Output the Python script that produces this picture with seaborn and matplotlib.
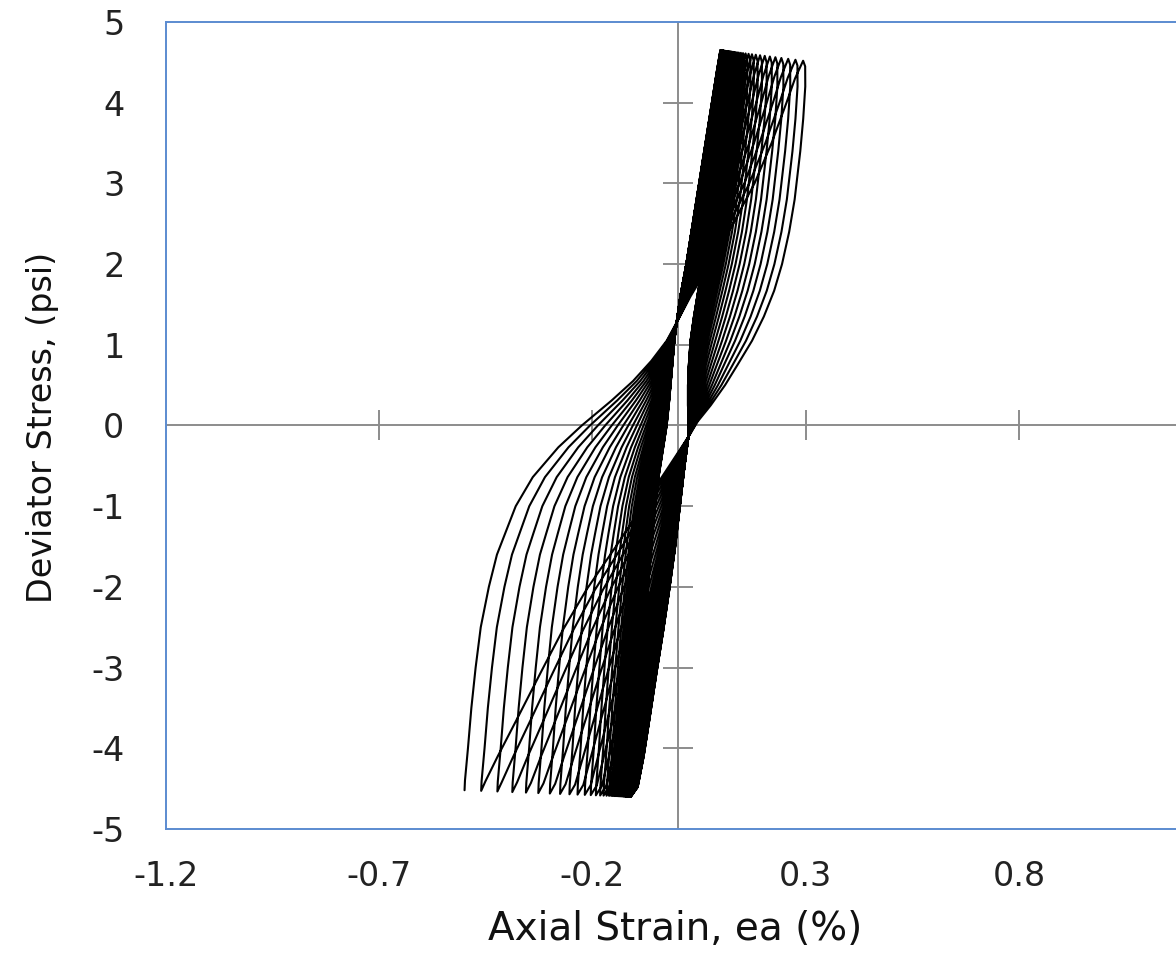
import numpy as np
import pandas as pd
import matplotlib.pyplot as plt
import seaborn as sns

# Cyclic triaxial test: deviator stress vs axial strain, one loop per load cycle.
# Branch shapes for the first (widest) and last (tightest) cycle.

# loading branch, first cycle
LOAD_STRESS_OUTER = [-4.52, -4.4, -4.0, -3.5, -3.0, -2.5, -2.0, -1.6, -1.34, -1.0, -0.64, -0.27, 0.0,
                     0.31, 0.55, 0.8, 1.05, 1.3, 1.6, 2.0, 2.5, 3.0, 3.5, 4.0, 4.3, 4.52]
LOAD_STRAIN_OUTER = [-0.500, -0.499, -0.492, -0.484, -0.474, -0.462, -0.443, -0.424, -0.405, -0.380,
                     -0.340, -0.280, -0.225, -0.155, -0.105, -0.062, -0.026, 0.000, 0.030, 0.075,
                     0.130, 0.180, 0.220, 0.255, 0.275, 0.294]
# unloading branch, first cycle
UNLOAD_STRESS_OUTER = [4.52, 4.45, 4.2, 3.8, 3.4, 2.8, 2.4, 2.0, 1.67, 1.35, 1.05, 0.75, 0.5, 0.25,
                       0.05, -0.1, -0.5, -1.0, -1.5, -2.04, -2.54, -3.07, -3.66, -4.1, -4.4, -4.52]
UNLOAD_STRAIN_OUTER = [0.294, 0.299, 0.300, 0.296, 0.290, 0.278, 0.266, 0.250, 0.232, 0.208, 0.180,
                       0.145, 0.115, 0.080, 0.048, 0.030, -0.022, -0.088, -0.155, -0.230, -0.290,
                       -0.347, -0.410, -0.458, -0.490, -0.500]

# loading branch, last cycle
LOAD_STRESS_INNER = [-4.6, -4.48, -4.0, -3.5, -3.0, -2.5, -2.0, -1.6, -1.34, -1.0, -0.64, -0.27, 0.0,
                     0.31, 0.55, 0.8, 1.05, 1.3, 1.6, 2.0, 2.5, 3.0, 3.5, 4.0, 4.4, 4.65]
LOAD_STRAIN_INNER = [-0.110, -0.109, -0.101, -0.094, -0.086, -0.078, -0.070, -0.063, -0.059, -0.053,
                     -0.045, -0.034, -0.026, -0.020, -0.016, -0.012, -0.008, -0.002, 0.006, 0.020,
                     0.035, 0.050, 0.065, 0.080, 0.092, 0.100]
# unloading branch, last cycle
UNLOAD_STRESS_INNER = [4.65, 4.56, 4.2, 3.8, 3.4, 2.8, 2.4, 2.0, 1.67, 1.35, 1.05, 0.75, 0.5, 0.25,
                       0.05, -0.1, -0.5, -1.0, -1.5, -2.04, -2.54, -3.07, -3.66, -4.1, -4.48, -4.6]
UNLOAD_STRAIN_INNER = [0.100, 0.104, 0.105, 0.101, 0.094, 0.083, 0.073, 0.060, 0.048, 0.038, 0.030,
                       0.026, 0.024, 0.024, 0.025, 0.026, 0.016, 0.005, -0.006, -0.020, -0.034,
                       -0.050, -0.067, -0.080, -0.094, -0.110]

# strain at the bottom (compression) and top (extension) tip of each cycle
BOTTOM_TIPS = [-0.500, -0.461, -0.423, -0.388, -0.356, -0.327, -0.300, -0.276, -0.254, -0.235,
               -0.218, -0.204, -0.192, -0.182, -0.174, -0.167, -0.161, -0.156, -0.152, -0.148,
               -0.145, -0.142, -0.139, -0.137, -0.135, -0.133, -0.131, -0.129, -0.127, -0.126,
               -0.124, -0.123, -0.122, -0.121, -0.120, -0.119, -0.118, -0.117, -0.116, -0.115,
               -0.114, -0.114, -0.113, -0.113, -0.112, -0.112, -0.111, -0.111, -0.110, -0.110]
TOP_TIPS = [0.294, 0.276, 0.259, 0.243, 0.229, 0.216, 0.204, 0.193, 0.183, 0.174,
            0.166, 0.159, 0.153, 0.148, 0.143, 0.139, 0.135, 0.132, 0.129, 0.126,
            0.124, 0.122, 0.120, 0.118, 0.117, 0.115, 0.114, 0.113, 0.112, 0.111,
            0.110, 0.109, 0.108, 0.107, 0.107, 0.106, 0.105, 0.105, 0.104, 0.104,
            0.103, 0.103, 0.102, 0.102, 0.101, 0.101, 0.101, 0.100, 0.100, 0.100]

X_TICKS = [-1.2, -0.7, -0.2, 0.3, 0.8]
Y_TICKS = [-5, -4, -3, -2, -1, 0, 1, 2, 3, 4, 5]


def branch(s_out, e_out, s_in, e_in, w_bot, w_top):
    s_out, e_out, s_in, e_in = map(np.asarray, (s_out, e_out, s_in, e_in))
    # weight runs from the bottom-tip weight to the top-tip weight along the branch
    frac = np.clip((s_in + 4.6) / 9.25, 0, 1)
    w = w_bot + (w_top - w_bot) * frac
    return s_in + w * (s_out - s_in), e_in + w * (e_out - e_in)


b_span = BOTTOM_TIPS[0] - BOTTOM_TIPS[-1]
t_span = TOP_TIPS[0] - TOP_TIPS[-1]
w_bots = [(b - BOTTOM_TIPS[-1]) / b_span for b in BOTTOM_TIPS]
w_tops = [(t - TOP_TIPS[-1]) / t_span for t in TOP_TIPS]

strain, stress = [], []
n = len(BOTTOM_TIPS)
for k in range(n):
    # load from this cycle's bottom tip up to its top tip
    s1, e1 = branch(LOAD_STRESS_OUTER, LOAD_STRAIN_OUTER, LOAD_STRESS_INNER, LOAD_STRAIN_INNER,
                    w_bots[k], w_tops[k])
    # unload from the top tip down to the next cycle's bottom tip
    s2, e2 = branch(UNLOAD_STRESS_OUTER, UNLOAD_STRAIN_OUTER, UNLOAD_STRESS_INNER, UNLOAD_STRAIN_INNER,
                    w_bots[min(k + 1, n - 1)], w_tops[k])
    stress += list(s1) + list(s2[1:])
    strain += list(e1) + list(e2[1:])

df = pd.DataFrame({'strain': strain, 'stress': stress})

sns.set_style('white')
plt.rcParams['font.family'] = ['DejaVu Sans']
plt.rcParams['axes.unicode_minus'] = False

fig = plt.figure(figsize=(11.76, 9.61), dpi=100)
# plot area runs past the right edge of the picture (reference is cropped)
ax = fig.add_axes([0.1412, 0.1374, 0.9065, 0.8397])

axis_grey = '#8c8c8c'
ax.axhline(0, color=axis_grey, lw=1.4, zorder=1)
ax.axvline(0, color=axis_grey, lw=1.4, zorder=1)
ax.plot(X_TICKS[1:], [0] * (len(X_TICKS) - 1), ls='none', marker='|', ms=22, mew=1.4,
        color=axis_grey, zorder=1)
ax.plot([0] * (len(Y_TICKS) - 2), Y_TICKS[1:-1], ls='none', marker='_', ms=22, mew=1.4,
        color=axis_grey, zorder=1)

sns.lineplot(data=df, x='strain', y='stress', sort=False, estimator=None,
             color='black', lw=1.5, ax=ax, zorder=2)

ax.set_xlim(-1.2, 1.3)
ax.set_ylim(-5, 5)
ax.set_xticks(X_TICKS)
ax.set_xticklabels([f'{v:g}' for v in X_TICKS])
ax.set_yticks(Y_TICKS)
ax.set_yticklabels([str(v) for v in Y_TICKS])
ax.tick_params(axis='both', length=0, labelsize=24, colors='#222222')
ax.tick_params(axis='y', pad=30)
ax.tick_params(axis='x', pad=22)

for sp in ax.spines.values():
    sp.set_color('#5b8bd0')
    sp.set_linewidth(1.4)

ax.set_xlabel('Axial Strain, ea (%)', fontsize=28, color='#111111')
ax.set_ylabel('Deviator Stress, (psi)', fontsize=24, color='#111111')
ax.xaxis.set_label_coords(0.4775, -0.100)
ax.yaxis.set_label_coords(-0.100, 0.497)

fig.savefig('out.png', dpi=100)
